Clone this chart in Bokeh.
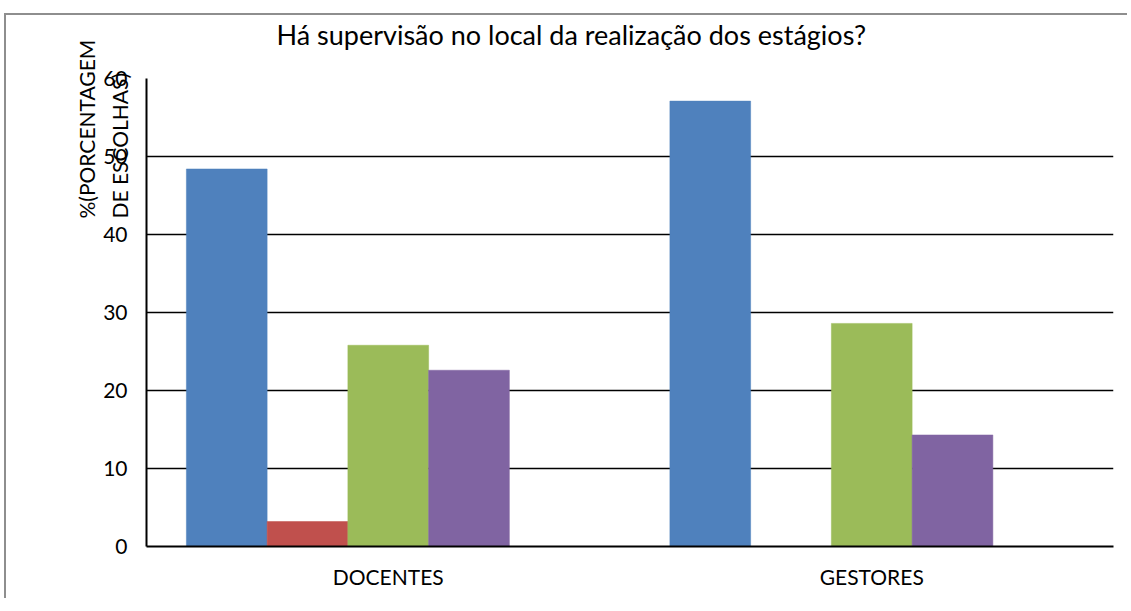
from bokeh.plotting import figure
from bokeh.models import FactorRange, Range1d, ColumnDataSource, Title, SingleIntervalTicker
from bokeh.transform import dodge
from bokeh.embed import file_html
from bokeh.resources import INLINE

categories = ["DOCENTES", "GESTORES"]
series_names = ["Série1", "Série2", "Série3", "Série4", "Série5"]
serie1 = [48.4, 57.1]
serie2 = [3.2, 0.0]
serie3 = [25.8, 28.6]
serie4 = [22.6, 14.3]
serie5 = [0.0, 0.0]
colors = ["#4F81BD", "#C0504D", "#9BBB59", "#8064A2", "#4BACC6"]
title_text = "Há supervisão no local da realização dos estágios?"
ylabel_text = "%(PORCENTAGEM\nDE ESCOLHAS)"

FONT = "Lato"

source = ColumnDataSource(dict(cat=categories, s1=serie1, s2=serie2, s3=serie3, s4=serie4, s5=serie5))

p = figure(x_range=FactorRange(*categories, range_padding=0), y_range=Range1d(0, 60),
           width=1123, height=585, output_backend="svg", toolbar_location=None,
           min_border_left=140, min_border_right=16, min_border_top=62, min_border_bottom=54,
           title=title_text)
p.styles = {"margin-left": "4px", "margin-top": "13px",
            "border-left": "2px solid #8e8e8e", "border-top": "2px solid #8e8e8e"}

p.title.align = "left"
p.title.offset = 130
p.title.text_font = FONT
p.title.text_font_size = "27px"
p.title.text_font_style = "normal"
p.title.text_color = "black"
p.title.standoff = 0
p.title.padding = dict(left=0, right=0, top=0, bottom=28)

bw = 0.167
offsets = [-2 * bw, -bw, 0, bw, 2 * bw]
for i, key in enumerate(["s1", "s2", "s3", "s4", "s5"]):
    p.vbar(x=dodge("cat", offsets[i], range=p.x_range), top=key, width=bw, source=source,
           fill_color=colors[i], line_color=colors[i], line_width=0.5)

p.outline_line_color = None
p.background_fill_color = "white"
p.border_fill_color = "white"

p.xgrid.grid_line_color = None
p.ygrid.grid_line_color = "black"
p.ygrid.grid_line_width = 1.5
p.yaxis.ticker = SingleIntervalTicker(interval=10)

for ax in [p.xaxis[0], p.yaxis[0]]:
    ax.axis_line_color = "black"
    ax.axis_line_width = 2
    ax.major_tick_line_color = None
    ax.minor_tick_line_color = None
    ax.major_label_text_font = FONT
    ax.major_label_text_color = "black"

p.yaxis.major_label_text_font_size = "21px"
p.yaxis.major_label_standoff = 13
p.xaxis.major_label_text_font_size = "21px"
p.xaxis.major_label_standoff = 11

ytitle = Title(text=ylabel_text, align="left", offset=328, standoff=-62,
               text_font=FONT, text_font_size="21px", text_font_style="normal",
               text_color="black", text_line_height=1.3)
p.add_layout(ytitle, "left")

open("out.html", "w").write(file_html(p, INLINE))
